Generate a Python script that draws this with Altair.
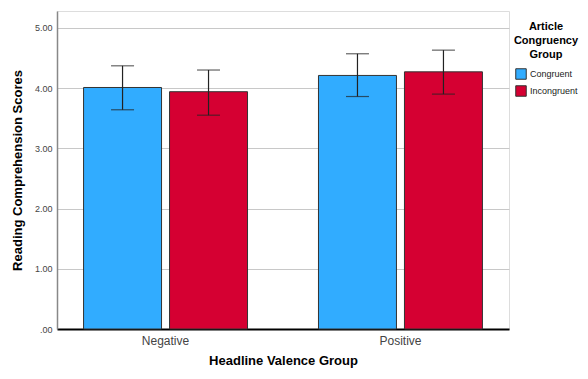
import altair as alt
import pandas as pd

valence = ["Negative", "Negative", "Positive", "Positive"]
congruency = ["Congruent", "Incongruent", "Congruent", "Incongruent"]
means = [4.01, 3.94, 4.21, 4.27]
ci_low = [3.64, 3.55, 3.86, 3.90]
ci_high = [4.37, 4.30, 4.57, 4.63]
groups = ["Congruent", "Incongruent"]
colors = ["#31ACFF", "#D50032"]
y_ticks = [0, 1, 2, 3, 4, 5]

df = pd.DataFrame({
    "valence": valence,
    "congruency": congruency,
    "mean": means,
    "lo": ci_low,
    "hi": ci_high,
})

FONT = "Liberation Sans"

x = alt.X(
    "valence:N",
    title="Headline Valence Group",
    scale=alt.Scale(paddingInner=0.268, paddingOuter=0.096),
    axis=alt.Axis(
        labelAngle=0, ticks=False, domainColor="#000000", domainWidth=2,
        labelFontSize=12, labelColor="#444444", labelPadding=6, labelFont=FONT,
        titleFontSize=13, titleFontWeight="bold", titleColor="#000000",
        titlePadding=8, titleFont=FONT, grid=False,
    ),
)
xo = alt.XOffset(
    "congruency:N",
    scale=alt.Scale(domain=groups, paddingInner=0.093, paddingOuter=0.0465),
)
y_scale = alt.Scale(domain=[0, 5.28], nice=False)

bars = alt.Chart(df).mark_bar(stroke="#333333", strokeWidth=1).encode(
    x=x,
    xOffset=xo,
    y=alt.Y(
        "mean:Q",
        title="Reading Comprehension Scores",
        scale=y_scale,
        axis=alt.Axis(
            values=y_ticks,
            labelExpr="datum.value == 0 ? '.00' : format(datum.value, '.2f')",
            ticks=False, labelFontSize=9, labelColor="#444444", labelPadding=5,
            labelFont=FONT, domainColor="#888888", domainWidth=1.5,
            gridColor="#C8C8C8", gridWidth=1,
            titleFontSize=13, titleFontWeight="bold", titleColor="#000000",
            titlePadding=10, titleFont=FONT,
        ),
    ),
    color=alt.Color(
        "congruency:N",
        scale=alt.Scale(domain=groups, range=colors),
        legend=alt.Legend(
            title=["Article", "Congruency", "Group"],
            orient="none", legendX=457, legendY=10,
            titleAlign="center", titleAnchor="middle",
            titleFontSize=11, titleFontWeight="bold", titleColor="#000000",
            titleLineHeight=14, titleFont=FONT, titlePadding=8,
            symbolType="square", symbolSize=110, symbolStrokeColor="#333333",
            symbolStrokeWidth=1, symbolOpacity=1,
            labelFontSize=9, labelColor="#222222", labelFont=FONT,
            labelOffset=3, rowPadding=1, padding=0,
        ),
    ),
)

rules = alt.Chart(df).mark_rule(color="#222222", strokeWidth=1.2).encode(
    x=alt.X("valence:N"),
    xOffset=xo,
    y=alt.Y("lo:Q", scale=y_scale),
    y2="hi:Q",
)
caps_lo = alt.Chart(df).mark_tick(color="#222222", thickness=1.2, size=23).encode(
    x=alt.X("valence:N"),
    xOffset=xo,
    y=alt.Y("lo:Q", scale=y_scale),
)
caps_hi = alt.Chart(df).mark_tick(color="#222222", thickness=1.2, size=23).encode(
    x=alt.X("valence:N"),
    xOffset=xo,
    y=alt.Y("hi:Q", scale=y_scale),
)

chart = alt.layer(bars, rules, caps_lo, caps_hi).properties(
    width=452, height=318,
    autosize="none",
    padding={"left": 49, "top": 3, "right": 71, "bottom": 41},
).configure_view(stroke=None).configure(font=FONT)

chart.save("out.html", embed_options={"renderer": "svg", "actions": False})
